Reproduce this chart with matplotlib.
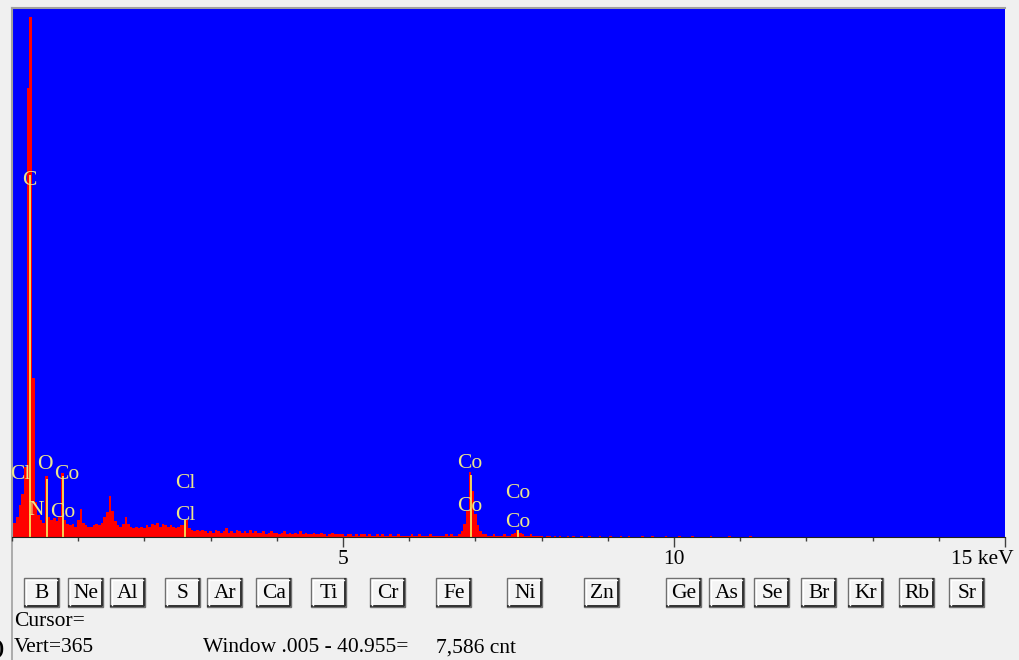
import matplotlib.pyplot as plt
import numpy as np
from matplotlib.patches import Rectangle
from matplotlib.transforms import ScaledTranslation

# EDS spectrum, one value per 0.04 keV channel (channel centre = 0.04 * index)
channel_width = 0.04
counts_by_kev = [
    [8, 10, 14, 22, 30, 48, 310, 359, 110, 24, 15, 12, 10, 42, 14, 12, 13, 11, 14, 44, 12, 9, 8, 9, 7],
    [12, 19, 10, 8, 7, 7, 8, 9, 8, 10, 14, 17, 28, 18, 11, 8, 7, 9, 14, 9, 7, 6, 7, 6, 7],
    [6, 8, 7, 9, 8, 10, 7, 9, 8, 7, 8, 7, 6, 7, 8, 8, 12, 6, 5, 4, 5, 4, 5, 4, 3],
    [4, 3, 5, 4, 3, 4, 6, 3, 4, 3, 5, 4, 3, 4, 3, 5, 3, 4, 3, 3, 4, 2, 3, 4, 3],
    [3, 2, 3, 4, 2, 3, 2, 3, 2, 4, 2, 3, 2, 2, 3, 2, 2, 3, 2, 1, 2, 3, 2, 2, 2],
    [2, 1, 2, 2, 1, 2, 1, 2, 2, 1, 2, 1, 1, 2, 1, 2, 1, 1, 2, 1, 1, 2, 1, 1, 1],
    [1, 2, 1, 1, 2, 1, 1, 1, 2, 1, 1, 1, 1, 1, 2, 1, 2, 1, 1, 2, 4, 9, 18, 45, 32],
    [16, 8, 4, 2, 2, 1, 1, 2, 1, 1, 1, 2, 1, 1, 2, 3, 5, 3, 2, 1, 1, 2, 1, 1, 1],
    [1, 0, 1, 1, 0, 1, 0, 1, 0, 0, 1, 0, 1, 0, 0, 1, 0, 0, 1, 0, 0, 0, 1, 0, 0],
    [0, 1, 0, 0, 0, 1, 0, 0, 1, 0, 0, 0, 0, 1, 0, 0, 0, 1, 0, 0, 0, 0, 1, 0, 0],
    [0, 0, 1, 0, 0, 0, 0, 1, 0, 0, 0, 0, 0, 0, 1, 0, 0, 0, 0, 0, 0, 1, 0, 0, 0],
    [0, 0, 0, 0, 1, 0, 0, 0, 0, 0, 0, 0, 0, 0, 0, 0, 0, 0, 0, 0, 0, 0, 0, 0, 0],
    [0] * 25,
    [0] * 25,
    [0] * 25,
]

# peak identification markers (energy keV, marker height in counts)
marker_energy = [0.277, 0.525, 0.776, 2.62, 6.93, 7.65]
marker_height = [250, 40, 42, 12, 43, 5]

# peak labels: text, energy, count level
label_text = ["C", "Cl", "O", "Co", "N", "Co", "Cl", "Cl", "Co", "Co", "Co", "Co"]
label_energy = [0.26, 0.12, 0.50, 0.83, 0.36, 0.76, 2.62, 2.62, 6.91, 6.91, 7.64, 7.64]
label_counts = [246, 43, 50, 43, 18, 17, 37, 15, 51, 21, 30, 10]

tick_values = [5, 10, 15]
tick_labels = ["5", "10", "15 keV"]

element_buttons = ["B", "Ne", "Al", "S", "Ar", "Ca", "Ti", "Cr", "Fe",
                   "Ni", "Zn", "Ge", "As", "Se", "Br", "Kr", "Rb", "Sr"]

counts = np.array(sum(counts_by_kev, []), dtype=float)
energy = channel_width * np.arange(len(counts))

W, H = 1019, 660
fs = 15.5
fig = plt.figure(figsize=(W / 100, H / 100), dpi=100)
fig.patch.set_facecolor("#f0f0f0")
serif = "Liberation Serif"
label_color = "#ece68c"

ax = fig.add_axes([12 / W, (H - 537) / H, (1005 - 12) / W, (537 - 8) / H])
ax.set_facecolor("#0000ff")
ax.bar(energy, counts, width=channel_width, color="#ff0000", linewidth=0, align="center")
ax.vlines(marker_energy, 0, marker_height, colors="#f5e35a", linewidth=1.3)
for t, e, c in zip(label_text, label_energy, label_counts):
    ax.text(e, c, t, color=label_color, fontsize=fs, family=serif, ha="center", va="center")

ax.set_xlim(0, 15)
ax.set_ylim(0, 365)
ax.set_yticks([])
ax.set_xticks(tick_values)
ax.set_xticklabels(tick_labels, fontsize=fs, family=serif)
ax.set_xticks(np.arange(0, 16, 1), minor=True)
ax.tick_params(axis="x", which="major", length=7, width=1, color="#404040", pad=2)
ax.tick_params(axis="x", which="minor", length=3, width=1, color="#404040")
last = ax.get_xticklabels()[-1]
last.set_horizontalalignment("right")
last.set_transform(last.get_transform() + ScaledTranslation(9 / 100, 0, fig.dpi_scale_trans))
for side in ["top", "left"]:
    ax.spines[side].set_color("#a0a0a0")
    ax.spines[side].set_linewidth(1.5)
ax.spines["right"].set_visible(False)
ax.spines["bottom"].set_color("#202020")

# window chrome below the spectrum
ui = fig.add_axes([0, 0, 1, 1], zorder=-1)
ui.set_xlim(0, W)
ui.set_ylim(H, 0)
ui.axis("off")
ui.plot([12, 12], [537, H], color="#a0a0a0", lw=1.2)

button_x = [42, 86, 128, 183, 225, 274, 329, 388, 454,
            525, 602, 684, 727, 772, 819, 866, 917, 967]
for name, cx in zip(element_buttons, button_x):
    x0, y0, bw, bh = cx - 17.5, 578, 35, 29
    ui.add_patch(Rectangle((x0, y0), bw, bh, facecolor="#f4f4f4", edgecolor="#707070", lw=1))
    ui.plot([x0 + 1, x0 + bw - 1, x0 + bw - 1], [y0 + bh - 1, y0 + bh - 1, y0 + 1],
            color="#303030", lw=1.4)
    ui.plot([x0 + 2, x0 + 2, x0 + bw - 2], [y0 + bh - 2, y0 + 2, y0 + 2],
            color="white", lw=1)
    ui.text(cx, y0 + bh / 2 + 1, name, fontsize=fs, family=serif, ha="center", va="center")

ui.text(14, 621, "Cursor=", fontsize=fs, family=serif, ha="left", va="center")
ui.text(14, 648, "Vert=365", fontsize=fs, family=serif, ha="left", va="center")
ui.text(203, 648, "Window .005 - 40.955=", fontsize=fs, family=serif, ha="left", va="center")
ui.text(436, 648, "7,586 cnt", fontsize=fs, family=serif, ha="left", va="center")
ui.text(-4, 649, ")", fontsize=fs, family=serif, ha="left", va="center", fontweight="bold")

fig.savefig("out.png", dpi=100, facecolor=fig.get_facecolor())
